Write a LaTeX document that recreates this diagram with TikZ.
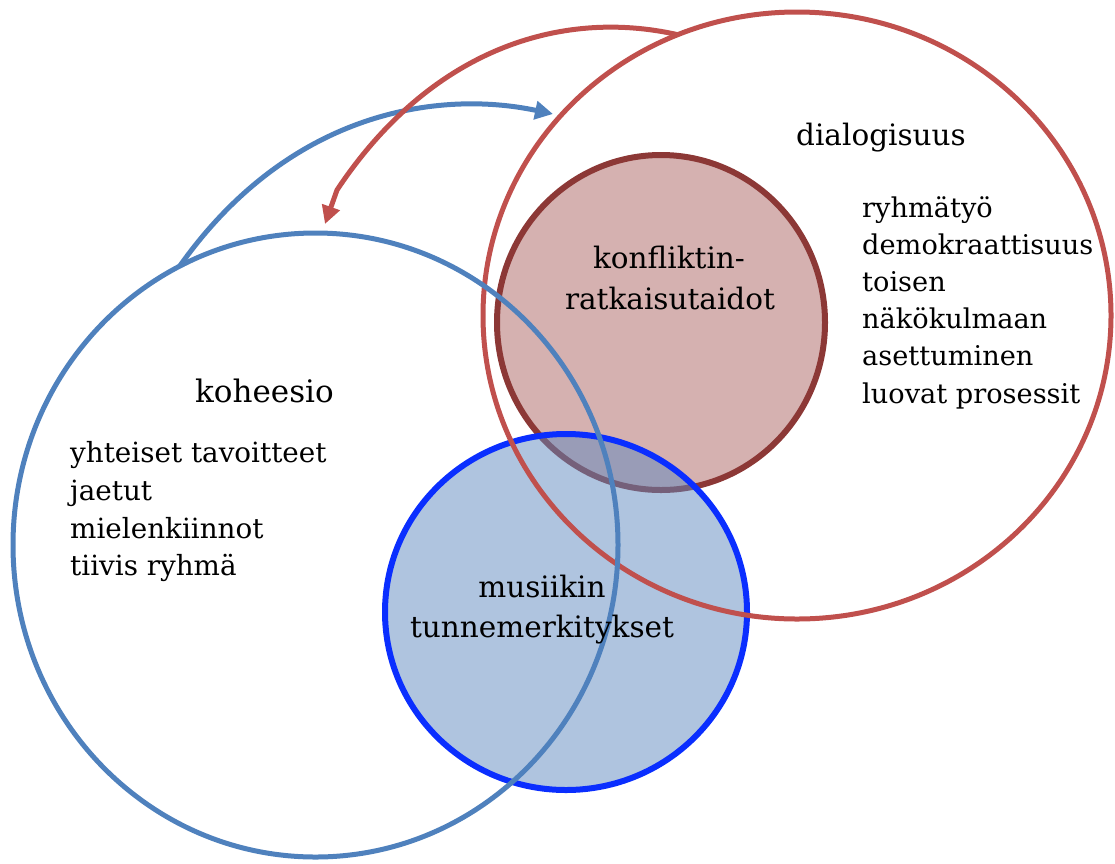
\documentclass[tikz,border=0pt]{standalone}
\usepackage{fontspec}
\setmainfont{DejaVu Serif}
\usetikzlibrary{arrows.meta,shapes.geometric}
\definecolor{cohblue}{HTML}{4F81BD}
\definecolor{dialred}{HTML}{C0504D}
\definecolor{konffill}{HTML}{D5B1B0}
\definecolor{konfline}{HTML}{8C3836}
\definecolor{musline}{HTML}{0A2EFF}
\definecolor{musfill}{HTML}{5F89BF}
\begin{document}
\begin{tikzpicture}[x=1pt,y=-1pt,
  venn/.style={ellipse, inner sep=0pt, outer sep=0pt},
  lbl/.style={inner sep=0pt, anchor=base, font=\fontsize{29.5}{36}\selectfont},
  itm/.style={inner sep=0pt, anchor=base west, font=\fontsize{27.2}{33}\selectfont},
  conn/.style={line width=5pt, -{Triangle[length=18pt,width=18pt]}}
]
\useasboundingbox (0,0) rectangle (1115,863);
% filled circles
\node[venn, fill=konffill, draw=konfline, line width=6pt,
      minimum width=328, minimum height=335] (konf) at (661,322.5) {};
\node[venn, fill=musfill, fill opacity=0.5, draw=musline, line width=6pt,
      minimum width=362, minimum height=356] (mus) at (566,612) {};
% big outline circles
\node[venn, draw=dialred, line width=5pt,
      minimum width=628, minimum height=607] (dial) at (797,315.5) {};
\node[venn, draw=cohblue, line width=5pt,
      minimum width=605, minimum height=624] (koh) at (315.5,545) {};
% connectors
\coordinate (bend) at (553,114);
\coordinate (rmid) at (337,190);
\coordinate (rend) at (325,224);
\draw[conn, draw=cohblue] (koh.116) .. controls (290,110) and (440,90) .. (bend);
\draw[conn, draw=dialred] (dial.113.5) .. controls (560,8) and (430,50) .. (rmid) -- (rend);
% labels
\node[lbl, font=\fontsize{31}{36}\selectfont] (tkoh) at (264.5,402) {koheesio};
\node[itm, font=\fontsize{27.8}{33}\selectfont] (k1) at (70,462) {yhteiset tavoitteet};
\node[itm, font=\fontsize{27.8}{33}\selectfont] (k2) at (70,500) {jaetut};
\node[itm, font=\fontsize{27.8}{33}\selectfont] (k3) at (70,538) {mielenkiinnot};
\node[itm, font=\fontsize{27.8}{33}\selectfont] (k4) at (70,575) {tiivis ryhmä};
\node[lbl] (tdial) at (881,145) {dialogisuus};
\node[itm] (d1) at (862,217) {ryhmätyö};
\node[itm] (d2) at (862,254.2) {demokraattisuus};
\node[itm] (d3) at (862,291.4) {toisen};
\node[itm] (d4) at (862,328.6) {näkökulmaan};
\node[itm] (d5) at (862,365.8) {asettuminen};
\node[itm] (d6) at (862,403) {luovat prosessit};
\node[lbl] (tk1) at (669,268) {konfliktin-};
\node[lbl] (tk2) at (670,309) {ratkaisutaidot};
\node[lbl] (tm1) at (542,597) {musiikin};
\node[lbl] (tm2) at (542,637) {tunnemerkitykset};
\end{tikzpicture}
\end{document}
